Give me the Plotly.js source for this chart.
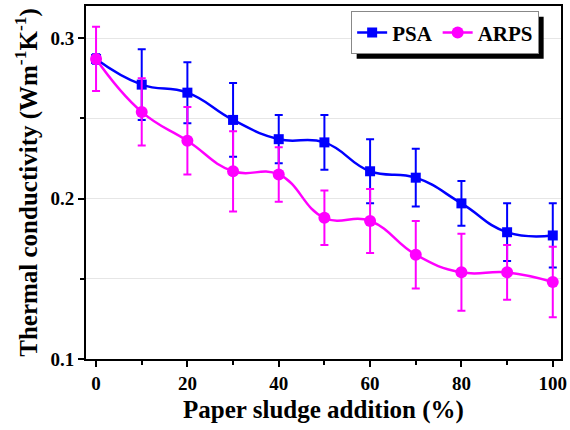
<!DOCTYPE html>
<html><head><meta charset="utf-8">
<script src="https://cdn.plot.ly/plotly-3.0.1.min.js"></script>
<style>html,body{margin:0;padding:0;background:#fff}#c{width:570px;height:430px}</style>
</head><body><div id="c"></div>
<script>
const xVals = [0, 10, 20, 30, 40, 50, 60, 70, 80, 90, 100];
const psa = [0.287, 0.271, 0.266, 0.249, 0.237, 0.235, 0.217, 0.213, 0.197, 0.179, 0.177];
const psaErr = [0.003, 0.022, 0.019, 0.023, 0.015, 0.017, 0.020, 0.018, 0.014, 0.018, 0.020];
const arps = [0.287, 0.254, 0.236, 0.217, 0.215, 0.188, 0.186, 0.165, 0.154, 0.154, 0.148];
const arpsErr = [0.020, 0.021, 0.021, 0.025, 0.017, 0.017, 0.020, 0.021, 0.024, 0.017, 0.022];
const seriesNames = ['PSA', 'ARPS'];

const fam = 'Liberation Serif, Times New Roman, serif';
const traces = [
  {x: xVals, y: psa, name: seriesNames[0], type: 'scatter', mode: 'lines+markers',
   line: {color: '#0000ff', width: 2.5, shape: 'spline', smoothing: 1.3},
   marker: {symbol: 'square', size: 10, color: '#0000ff'},
   error_y: {type: 'data', array: psaErr, visible: true, color: '#0000ff', thickness: 2, width: 4}},
  {x: xVals, y: arps, name: seriesNames[1], type: 'scatter', mode: 'lines+markers',
   line: {color: '#ff00ff', width: 2.5, shape: 'spline', smoothing: 1.3},
   marker: {symbol: 'circle', size: 12, color: '#ff00ff'},
   error_y: {type: 'data', array: arpsErr, visible: true, color: '#ff00ff', thickness: 2, width: 4}}
];
const layout = {
  width: 570, height: 430,
  margin: {l: 86, r: 9, t: 6, b: 71},
  paper_bgcolor: '#fff', plot_bgcolor: '#fff',
  showlegend: true,
  legend: {orientation: 'h', x: 0.954, xanchor: 'right', y: 0.985, yanchor: 'top',
    bgcolor: '#fff', bordercolor: '#888', borderwidth: 1,
    font: {family: fam, size: 21, weight: 'bold', color: '#000'},
    itemwidth: 30, tracegroupgap: 0},
  xaxis: {range: [-2.2, 101.8], tickvals: [0, 20, 40, 60, 80, 100],
    ticks: 'outside', ticklen: 6, tickwidth: 2, tickcolor: '#000',
    minor: {tickvals: [10, 30, 50, 70, 90], ticks: 'outside', ticklen: 4, tickwidth: 2, tickcolor: '#000', showgrid: false},
    showline: true, linecolor: '#000', linewidth: 2, mirror: true, showgrid: false, zeroline: false,
    tickfont: {family: fam, size: 19, weight: 'bold', color: '#000'},
    title: {text: 'Paper sludge addition (%)', standoff: 8,
      font: {family: fam, size: 25, weight: 'bold', color: '#000'}}},
  yaxis: {range: [0.1, 0.32], tickvals: [0.1, 0.2, 0.3], ticktext: ['0.1', '0.2', '0.3'],
    ticks: 'outside', ticklen: 6, tickwidth: 2, tickcolor: '#000',
    minor: {tickvals: [0.15, 0.25], ticks: 'outside', ticklen: 4, tickwidth: 2, tickcolor: '#000', showgrid: true, gridcolor: '#e6e6e6', gridwidth: 1},
    showgrid: true, gridcolor: '#e6e6e6', gridwidth: 1,
    showline: true, linecolor: '#000', linewidth: 2, mirror: true, zeroline: false,
    tickfont: {family: fam, size: 19, weight: 'bold', color: '#000'},
    title: {text: 'Thermal conductivity (Wm<sup>-1</sup>K<sup>-1</sup>)', standoff: 6,
      font: {family: fam, size: 25, weight: 'bold', color: '#000'}}}
};
const gd = document.getElementById('c');
Plotly.newPlot(gd, traces, layout, {displayModeBar: false, staticPlot: true}).then(() => {
  const bg = gd.querySelector('.legend .bg');
  if (!bg) return;
  const r = bg.getBoundingClientRect();
  const c = gd.getBoundingClientRect();
  const s = gd._fullLayout._size;
  const toX = px => (px - c.left - s.l) / s.w;
  const toY = py => 1 - (py - c.top - s.t) / s.h;
  return Plotly.relayout(gd, {shapes: [{type: 'rect', xref: 'paper', yref: 'paper', layer: 'above',
    x0: toX(r.left + 5), x1: toX(r.right + 5), y0: toY(r.bottom + 5), y1: toY(r.top + 5),
    fillcolor: '#000', line: {width: 0}}]});
});
</script></body></html>
